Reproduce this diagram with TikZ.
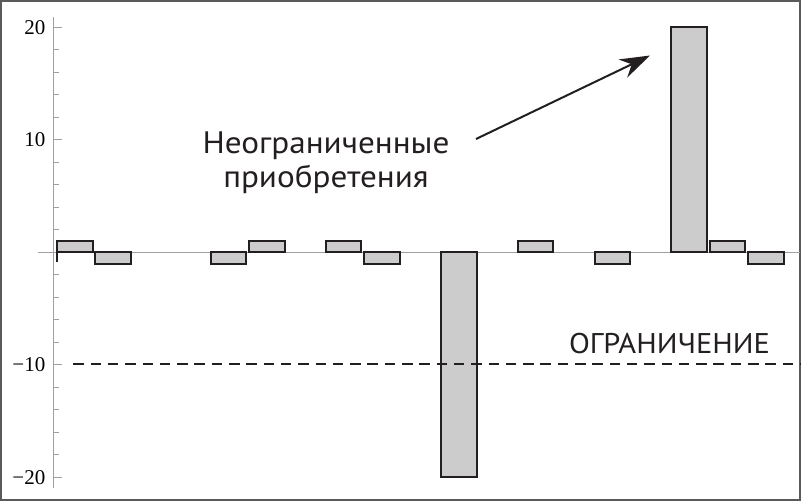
\documentclass[tikz,border=0pt]{standalone}
\usepackage{fontspec}
\setmainfont{Liberation Serif}
\newfontfamily\lblfont[FakeStretch=1.07]{PT Sans}
\usetikzlibrary{arrows.meta}
\definecolor{barline}{HTML}{231F20}
\definecolor{barfill}{HTML}{CCCCCC}
\definecolor{axisgray}{HTML}{A0A0A0}
\definecolor{framegray}{HTML}{5A5A5A}
\tikzset{
  barbox/.style={draw=barline, fill=barfill, line width=2pt},
  axisline/.style={draw=axisgray, line width=1pt},
  ticklbl/.style={anchor=east, inner sep=0pt, font=\fontsize{21}{21}\selectfont},
  sanslbl/.style={anchor=base, inner sep=0pt, text=barline},
  limitline/.style={draw=barline, line width=2.2pt, dash pattern=on 10.5pt off 6.8pt},
  arrowline/.style={draw=barline, line width=2pt, -{Stealth[length=30pt,width=20pt]}}
}
\begin{document}
\begin{tikzpicture}[x=1pt,y=-1pt]
\useasboundingbox (0,0) rectangle (801,501);
\fill[white] (0,0) rectangle (801,501);
\draw[framegray, line width=2pt] (1,1) rectangle (800,500);
% axes
\draw[axisline] (38,252.3) -- (800,252.3);
\draw[axisline] (53,17) -- (53,488);
\foreach \v in {-18,-16,-14,-12,-8,-6,-4,-2,2,4,6,8,12,14,16,18}
  \draw[axisline] (53,252.3-11.25*\v) -- (59,252.3-11.25*\v);
\foreach \v in {-20,-10,10,20}
  \draw[axisline] (53,252.3-11.25*\v) -- (62,252.3-11.25*\v);
\node[ticklbl] (t20) at (45.5,27.3) {20};
\node[ticklbl] (t10) at (45.5,139.8) {10};
\node[ticklbl] (tm10) at (45.5,364.8) {\char"2212 10};
\node[ticklbl] (tm20) at (45.5,477.3) {\char"2212 20};
% bars
\foreach \k/\v in {0/1,1/-1,4/-1,5/1,7/1,8/-1,10/-20,12/1,14/-1,16/20,17/1,18/-1}
  \draw[barbox] (57+38.4*\k,252.3) rectangle (57+38.4*\k+35.5,252.3-11.25*\v);
\draw[draw=barline, line width=2pt] (57,252.3) -- (57,262);
% limit line
\draw[limitline] (73.3,363.6) -- (800,363.6);
\node[sanslbl, font=\lblfont\fontsize{28.5}{28.5}\selectfont] (lim) at (669.5,353) {ОГРАНИЧЕНИЕ};
% label
\node[sanslbl, font=\lblfont\fontsize{31}{31}\selectfont] (lbl1) at (326,153) {Неограниченные};
\node[sanslbl, font=\lblfont\fontsize{31}{31}\selectfont] (lbl2) at (326,187) {приобретения};
\coordinate (arrstart) at (476,139);
\coordinate (arrtip) at (650,55.5);
\draw[arrowline] (arrstart) -- (arrtip);
\end{tikzpicture}
\end{document}
